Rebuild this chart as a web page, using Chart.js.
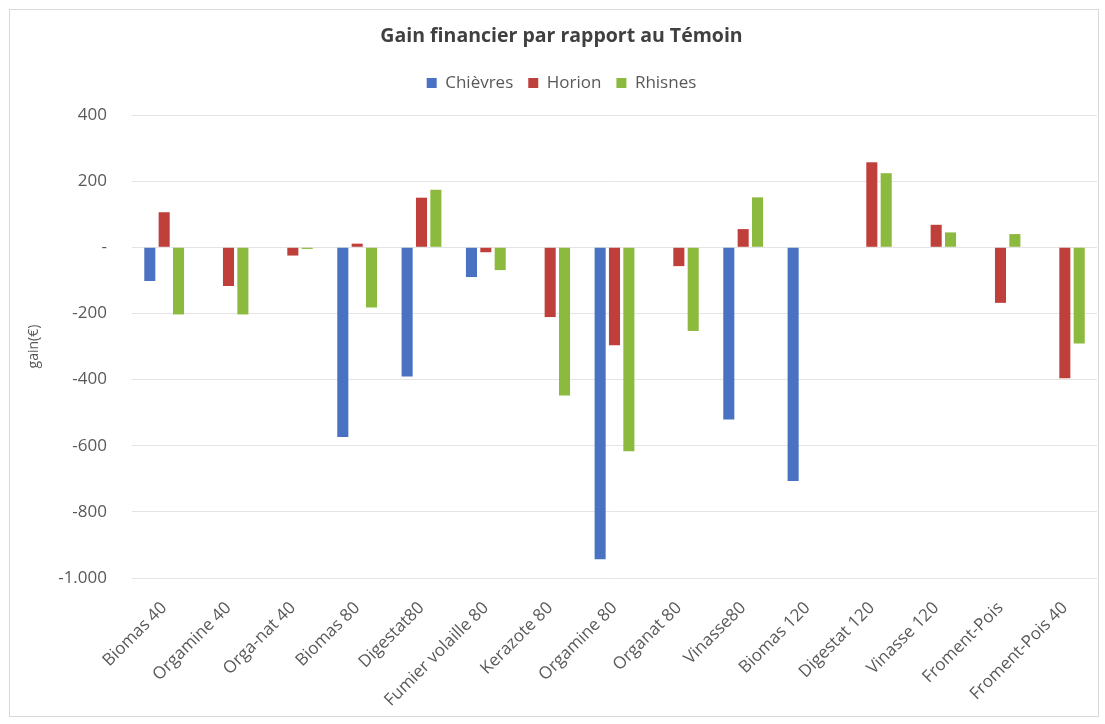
<!DOCTYPE html>
<html>
<head>
<meta charset="utf-8">
<script src="https://cdn.jsdelivr.net/npm/chart.js@4"></script>
<style>
html,body{margin:0;padding:0;background:#fff;}
#wrap{width:1105px;height:724px;position:relative;}
</style>
</head>
<body>
<div id="wrap"><canvas id="c" width="1105" height="724"></canvas></div>
<script>
const categories = ["Biomas 40","Orgamine 40","Orga-nat 40","Biomas 80","Digestat80","Fumier volaille 80","Kerazote 80","Orgamine 80","Organat 80","Vinasse80","Biomas 120","Digestat 120","Vinasse 120","Froment-Pois","Froment-Pois 40"];
const chievres = [-102, null, null, -574, -391, -90, null, -943, null, -521, -707, null, null, null, null];
const horion   = [106, -117, -25, 11, 150, -15, -211, -296, -57, 55, null, 257, 68, -168, -396];
const rhisnes  = [-203, -203, -5, -182, 174, -69, -448, -617, -253, 151, null, 224, 45, 40, -291];
const yTicks = [400, 200, 0, -200, -400, -600, -800, -1000];

const FONT = "'Open Sans', sans-serif";
const TXT = '#595959';

function fmt(v){
  if (v === 0) return '-';
  const s = Math.abs(v).toString().replace(/\B(?=(\d{3})+(?!\d))/g, '.');
  return (v < 0 ? '-' : '') + s;
}

const frame = {
  id: 'frame',
  beforeDraw(chart){
    const ctx = chart.ctx;
    ctx.save();
    ctx.fillStyle = '#fff';
    ctx.fillRect(0,0,chart.width,chart.height);
    ctx.strokeStyle = '#D9D9D9';
    ctx.lineWidth = 1;
    ctx.strokeRect(9.5, 9.5, 1089, 707);
    ctx.restore();
  }
};
const legendSpace = {
  id: 'legendSpace',
  beforeInit(chart){
    const orig = chart.legend.fit;
    chart.legend.fit = function(){
      orig.bind(chart.legend)();
      this.height = 55.6;
    };
  }
};

new Chart(document.getElementById('c'), {
  type: 'bar',
  data: {
    labels: categories,
    datasets: [
      {label: 'Chièvres', data: chievres, backgroundColor: '#4A72C2'},
      {label: 'Horion', data: horion, backgroundColor: '#BF3F3A'},
      {label: 'Rhisnes', data: rhisnes, backgroundColor: '#8CBA3E'}
    ]
  },
  options: {
    responsive: false,
    animation: false,
    devicePixelRatio: 1,
    layout: {padding: {left: 26, right: 8, top: 0, bottom: 10}},
    datasets: {bar: {categoryPercentage: 0.67, barPercentage: 0.77}},
    plugins: {
      title: {
        display: true,
        text: 'Gain financier par rapport au Témoin',
        color: '#404040',
        font: {family: FONT, size: 19.5, weight: 'bold'},
        padding: {top: 25, bottom: 11}
      },
      legend: {
        position: 'top',
        labels: {
          color: TXT,
          font: {family: FONT, size: 17},
          boxWidth: 10, boxHeight: 10,
          padding: 15
        }
      },
      tooltip: {enabled: false}
    },
    scales: {
      x: {
        grid: {display: false},
        border: {display: false},
        ticks: {
          color: TXT,
          font: {family: FONT, size: 17},
          minRotation: 45, maxRotation: 45,
          padding: 12
        },
        afterFit(scale){ scale.height = 136; }
      },
      y: {
        min: -1000, max: 400,
        afterBuildTicks(scale){ scale.ticks = yTicks.map(v => ({value: v})); },
        grid: {color: '#E4E4E4', lineWidth: 1, drawTicks: false},
        border: {display: false},
        ticks: {
          color: TXT,
          font: {family: FONT, size: 17},
          padding: 25,
          callback: (v) => fmt(v)
        },
        title: {
          display: true,
          text: 'gain(€)',
          color: TXT,
          font: {family: FONT, size: 14},
          padding: 0
        },
        afterFit(scale){ scale.width = 106; }
      }
    }
  },
  plugins: [frame, legendSpace]
});
</script>
</body>
</html>
